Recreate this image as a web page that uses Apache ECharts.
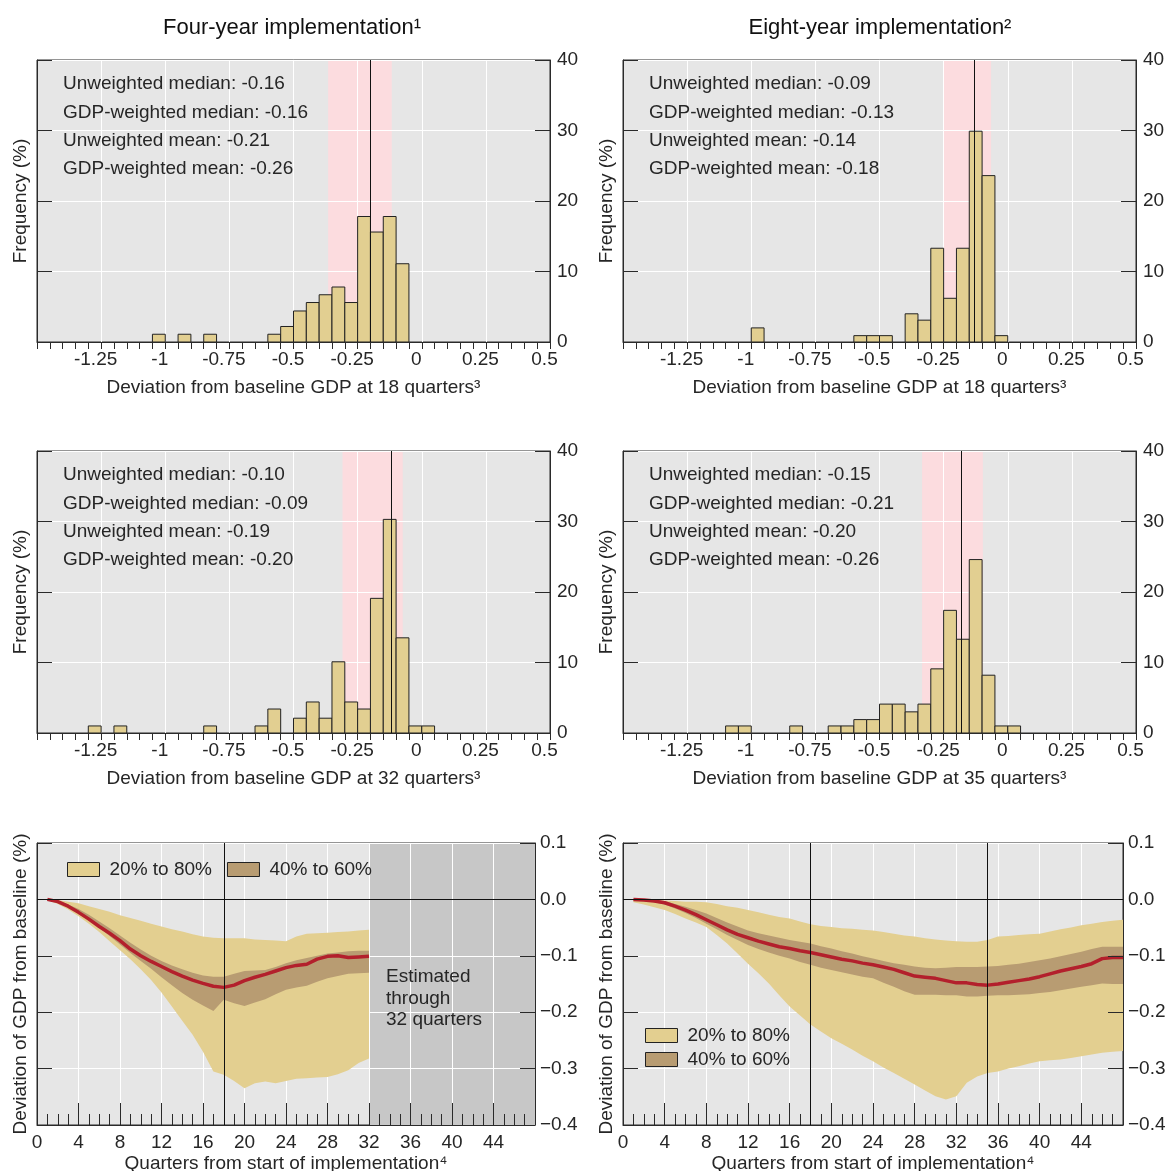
<!DOCTYPE html>
<html>
<head>
<meta charset="utf-8">
<script src="https://cdn.jsdelivr.net/npm/echarts@6/dist/echarts.min.js"></script>
<style>
  html, body { margin: 0; padding: 0; background: #fff; }
  #chart { width: 1168px; height: 1171px; }
</style>
</head>
<body>
<div id="chart"></div>
<script>
// ---- histogram data (bin start, frequency in %) ----
var binWidth = 0.05;

var h4y18Start = [-1.05, -0.95, -0.85, -0.6, -0.55, -0.5, -0.45, -0.4, -0.35, -0.3, -0.25, -0.2, -0.15, -0.1];
var h4y18Freq  = [1.1, 1.1, 1.1, 1.1, 2.2, 4.4, 5.6, 6.7, 7.8, 5.6, 17.8, 15.6, 17.8, 11.1];

var h8y18Start = [-1.0, -0.6, -0.55, -0.5, -0.4, -0.35, -0.3, -0.25, -0.2, -0.15, -0.1, -0.05];
var h8y18Freq  = [2.0, 0.9, 0.9, 0.9, 4.0, 3.1, 13.3, 6.2, 13.3, 29.9, 23.6, 0.9];

var h4y32Start = [-1.3, -1.2, -0.85, -0.65, -0.6, -0.5, -0.45, -0.4, -0.35, -0.3, -0.25, -0.2, -0.15, -0.1, -0.05, 0];
var h4y32Freq  = [1.0, 1.0, 1.0, 1.0, 3.4, 2.1, 4.4, 2.1, 10.1, 4.4, 3.4, 19.1, 30.3, 13.5, 1.0, 1.0];

var h8y35Start = [-1.1, -1.05, -0.85, -0.7, -0.65, -0.6, -0.55, -0.5, -0.45, -0.4, -0.35, -0.3, -0.25, -0.2, -0.15, -0.1, -0.05, 0];
var h8y35Freq  = [1.0, 1.0, 1.0, 1.0, 1.0, 1.9, 1.9, 4.1, 4.1, 3.0, 4.1, 9.1, 17.4, 13.3, 24.6, 8.2, 1.0, 1.0];

// order: 4y@18, 8y@18, 4y@32, 8y@35
var histRefLine  = [-0.2, -0.125, -0.117, -0.178];
var histBandLow  = [-0.365, -0.251, -0.309, -0.334];
var histBandHigh = [-0.117, -0.065, -0.074, -0.097];

var statLabels = ['Unweighted median', 'GDP-weighted median', 'Unweighted mean', 'GDP-weighted mean'];
var stats4y18 = ['-0.16', '-0.16', '-0.21', '-0.26'];
var stats8y18 = ['-0.09', '-0.13', '-0.14', '-0.18'];
var stats4y32 = ['-0.10', '-0.09', '-0.19', '-0.20'];
var stats8y35 = ['-0.15', '-0.21', '-0.20', '-0.26'];

// ---- GDP deviation paths ----
var quarters4y = [1, 2, 3, 4, 5, 6, 7, 8, 9, 10, 11, 12, 13, 14, 15, 16, 17, 18, 19, 20, 21, 22, 23, 24, 25, 26, 27, 28, 29, 30, 31, 32];
var med4y  = [0, -0.004, -0.012, -0.023, -0.035, -0.048, -0.06, -0.073, -0.088, -0.1, -0.11, -0.119, -0.128, -0.136, -0.143, -0.149, -0.154, -0.156, -0.152, -0.144, -0.138, -0.133, -0.127, -0.121, -0.117, -0.115, -0.106, -0.101, -0.1, -0.103, -0.102, -0.101];
var hi40_4y = [0, -0.003, -0.009, -0.017, -0.027, -0.039, -0.051, -0.064, -0.077, -0.089, -0.1, -0.109, -0.117, -0.124, -0.13, -0.135, -0.137, -0.137, -0.132, -0.127, -0.126, -0.125, -0.12, -0.113, -0.108, -0.104, -0.1, -0.096, -0.094, -0.092, -0.091, -0.091];
var lo40_4y = [0, -0.006, -0.014, -0.024, -0.036, -0.05, -0.065, -0.08, -0.095, -0.109, -0.123, -0.138, -0.152, -0.166, -0.178, -0.188, -0.198, -0.178, -0.184, -0.189, -0.183, -0.177, -0.168, -0.16, -0.156, -0.153, -0.146, -0.14, -0.136, -0.132, -0.131, -0.13];
var hi20_4y = [0, -0.001, -0.004, -0.007, -0.012, -0.017, -0.022, -0.028, -0.033, -0.038, -0.043, -0.048, -0.053, -0.057, -0.062, -0.066, -0.068, -0.069, -0.069, -0.069, -0.071, -0.072, -0.073, -0.074, -0.066, -0.061, -0.06, -0.059, -0.058, -0.057, -0.055, -0.054];
var lo20_4y = [-0.001, -0.008, -0.018, -0.03, -0.043, -0.058, -0.074, -0.09, -0.106, -0.124, -0.143, -0.165, -0.19, -0.215, -0.24, -0.27, -0.305, -0.311, -0.322, -0.335, -0.326, -0.323, -0.326, -0.322, -0.318, -0.317, -0.316, -0.315, -0.31, -0.303, -0.29, -0.282];

var quarters8y = [1, 2, 3, 4, 5, 6, 7, 8, 9, 10, 11, 12, 13, 14, 15, 16, 17, 18, 19, 20, 21, 22, 23, 24, 25, 26, 27, 28, 29, 30, 31, 32, 33, 34, 35, 36, 37, 38, 39, 40, 41, 42, 43, 44, 45, 46, 47, 48];
var med8y  = [0, -0.001, -0.003, -0.006, -0.012, -0.019, -0.027, -0.036, -0.045, -0.054, -0.062, -0.068, -0.074, -0.079, -0.084, -0.087, -0.091, -0.094, -0.098, -0.102, -0.106, -0.109, -0.113, -0.116, -0.12, -0.124, -0.13, -0.136, -0.138, -0.14, -0.144, -0.148, -0.148, -0.151, -0.152, -0.15, -0.147, -0.144, -0.141, -0.137, -0.132, -0.127, -0.123, -0.119, -0.114, -0.105, -0.103, -0.103];
var hi40_8y = [0, 0, -0.001, -0.003, -0.008, -0.013, -0.019, -0.025, -0.033, -0.041, -0.048, -0.055, -0.06, -0.064, -0.068, -0.072, -0.075, -0.078, -0.083, -0.087, -0.092, -0.096, -0.101, -0.105, -0.109, -0.113, -0.116, -0.119, -0.121, -0.122, -0.121, -0.12, -0.12, -0.12, -0.119, -0.118, -0.116, -0.114, -0.111, -0.108, -0.105, -0.101, -0.097, -0.093, -0.088, -0.084, -0.084, -0.084];
var lo40_8y = [0, -0.002, -0.005, -0.009, -0.016, -0.024, -0.033, -0.043, -0.053, -0.063, -0.072, -0.081, -0.088, -0.094, -0.1, -0.105, -0.111, -0.116, -0.121, -0.125, -0.129, -0.133, -0.137, -0.14, -0.148, -0.155, -0.163, -0.169, -0.169, -0.169, -0.17, -0.17, -0.172, -0.172, -0.171, -0.17, -0.17, -0.169, -0.168, -0.166, -0.164, -0.161, -0.158, -0.155, -0.152, -0.149, -0.15, -0.15];
var hi20_8y = [0, 0, -0.001, -0.002, -0.003, -0.004, -0.004, -0.005, -0.008, -0.012, -0.015, -0.019, -0.023, -0.027, -0.031, -0.034, -0.039, -0.044, -0.047, -0.049, -0.051, -0.052, -0.054, -0.055, -0.058, -0.061, -0.064, -0.066, -0.069, -0.071, -0.073, -0.074, -0.075, -0.075, -0.072, -0.066, -0.065, -0.063, -0.062, -0.061, -0.057, -0.053, -0.05, -0.046, -0.043, -0.04, -0.038, -0.036];
var lo20_8y = [-0.005, -0.009, -0.014, -0.019, -0.026, -0.034, -0.041, -0.049, -0.063, -0.078, -0.096, -0.114, -0.131, -0.149, -0.17, -0.19, -0.206, -0.222, -0.234, -0.246, -0.256, -0.266, -0.277, -0.287, -0.298, -0.308, -0.318, -0.328, -0.339, -0.349, -0.355, -0.349, -0.325, -0.314, -0.308, -0.305, -0.3, -0.296, -0.291, -0.287, -0.285, -0.284, -0.281, -0.278, -0.275, -0.272, -0.27, -0.269];

var refQuarters4y = [18];
var refQuarters8y = [18, 35];
var estimatedFrom = 32;   // 4y path only estimated through 32 quarters
var quarterMax = 48;

// ---- styling ----
var FONT = '"Liberation Sans", Arial, Helvetica, sans-serif';
var TXT = '#262626';
var LINE = '#2a2a2a';
var BG = '#e6e6e6';
var BAR = '#e2cf91';
var PINK = '#fcdcdf';
var C20 = '#e3cf90';
var C40 = '#b89c72';
var RED = '#b3202c';
var GREY = '#c7c7c7';

var histPanels = [
  { start: h4y18Start, freq: h4y18Freq, stats: stats4y18, xname: 'Deviation from baseline GDP at 18 quarters\u00b3', left: 37, top: 60 },
  { start: h8y18Start, freq: h8y18Freq, stats: stats8y18, xname: 'Deviation from baseline GDP at 18 quarters\u00b3', left: 623, top: 60 },
  { start: h4y32Start, freq: h4y32Freq, stats: stats4y32, xname: 'Deviation from baseline GDP at 32 quarters\u00b3', left: 37, top: 451 },
  { start: h8y35Start, freq: h8y35Freq, stats: stats8y35, xname: 'Deviation from baseline GDP at 35 quarters\u00b3', left: 623, top: 451 }
];

var pathPanels = [
  { q: quarters4y, med: med4y, hi40: hi40_4y, lo40: lo40_4y, hi20: hi20_4y, lo20: lo20_4y, refs: refQuarters4y, shade: true, left: 37, top: 843, width: 498 },
  { q: quarters8y, med: med8y, hi40: hi40_8y, lo40: lo40_8y, hi20: hi20_8y, lo20: lo20_8y, refs: refQuarters8y, shade: false, left: 623, top: 843, width: 500 }
];

var grids = [], xAxes = [], yAxes = [], series = [], graphics = [];

function frameGrid(left, top, width) {
  return { left: left, top: top, width: width, height: 282, show: true, backgroundColor: BG,
           borderColor: LINE, borderWidth: 1, containLabel: false, outerBoundsMode: 'none' };
}

function renderBin(params, api) {
  var x0 = api.value(0), h = api.value(1);
  var p0 = api.coord([x0, 0]);
  var p1 = api.coord([x0 + binWidth, h]);
  return {
    type: 'rect',
    shape: { x: p0[0], y: p1[1], width: p1[0] - p0[0], height: p0[1] - p1[1] },
    style: { fill: BAR, stroke: '#222', lineWidth: 1 }
  };
}

// whole band drawn once as one polygon: upper edge forward, lower edge back
function bandRenderer(xs, lo, hi, color) {
  return function (params, api) {
    if (params.dataIndex !== 0) return null;
    var pts = [], k;
    for (k = 0; k < xs.length; k++) pts.push(api.coord([xs[k], hi[k]]));
    for (k = xs.length - 1; k >= 0; k--) pts.push(api.coord([xs[k], lo[k]]));
    return { type: 'polygon', shape: { points: pts }, style: { fill: color } };
  };
}

function signedOne(v) {
  var r = Math.round(v * 10) / 10;
  if (r === 0) return '0.0';
  return r < 0 ? '\u2212' + (-r).toFixed(1) : r.toFixed(1);
}

function pairs(xs, ys) {
  return xs.map(function (x, k) { return [x, ys[k]]; });
}
function triples(xs, lo, hi) {
  return xs.map(function (x, k) { return [x, lo[k], hi[k]]; });
}

/* histograms */
histPanels.forEach(function (p, i) {
  grids.push(frameGrid(p.left, p.top, 513));
  xAxes.push({
    gridIndex: i, type: 'value', min: -1.5, max: 0.5, interval: 0.25, z: 1.5,
    axisLine: { show: true, onZero: false, lineStyle: { color: LINE } },
    axisTick: { show: true, inside: false, length: 7, lineStyle: { color: LINE } },
    minorTick: { show: true, splitNumber: 5, length: 7, lineStyle: { color: LINE } },
    splitLine: { show: true, lineStyle: { color: '#fff', width: 1 } },
    axisLabel: {
      margin: 8, fontSize: 19, fontFamily: FONT, color: TXT, padding: [0, 11, 0, 0],
      formatter: function (v) { return Math.abs(v + 1.5) < 1e-9 ? '' : String(+v.toFixed(2)); }
    },
    name: p.xname, nameLocation: 'middle', nameGap: 36,
    nameTextStyle: { fontSize: 19, fontFamily: FONT, color: TXT }
  });
  yAxes.push({
    gridIndex: i, type: 'value', position: 'left', min: 0, max: 40, interval: 10, z: 1.5,
    axisLine: { show: true, onZero: false, lineStyle: { color: LINE } },
    axisTick: { show: true, inside: true, length: 15, lineStyle: { color: LINE } },
    axisLabel: { show: false },
    splitLine: { show: true, lineStyle: { color: '#fff', width: 1 } },
    name: 'Frequency (%)', nameLocation: 'middle', nameGap: 7, nameRotate: 90,
    nameTextStyle: { fontSize: 19, fontFamily: FONT, color: TXT }
  });
  yAxes.push({
    gridIndex: i, type: 'value', position: 'right', min: 0, max: 40, interval: 10, z: 1.5,
    axisLine: { show: true, onZero: false, lineStyle: { color: LINE } },
    axisTick: { show: true, inside: true, length: 15, lineStyle: { color: LINE } },
    axisLabel: { margin: 7, fontSize: 19, fontFamily: FONT, color: TXT },
    splitLine: { show: false }
  });
  series.push({
    type: 'custom', name: 'hist' + i, xAxisIndex: i, yAxisIndex: 2 * i,
    data: pairs(p.start, p.freq), encode: { x: 0, y: 1 },
    renderItem: renderBin, clip: true, silent: true,
    markArea: {
      silent: true, z: 1, itemStyle: { color: PINK },
      data: [[{ xAxis: histBandLow[i] }, { xAxis: histBandHigh[i] }]]
    },
    markLine: {
      silent: true, symbol: ['none', 'none'], label: { show: false },
      lineStyle: { color: '#111', width: 1, type: 'solid' },
      data: [{ xAxis: histRefLine[i] }]
    }
  });
  graphics.push({
    type: 'text', x: p.left + 26, y: p.top + 10, z: 10, silent: true,
    style: {
      text: statLabels.map(function (s, k) { return s + ': ' + p.stats[k]; }).join('\n'),
      fontSize: 19, fontFamily: FONT, fill: TXT, lineHeight: 28.3
    }
  });
});

/* paths with percentile bands */
pathPanels.forEach(function (p, j) {
  var g = 4 + j;
  grids.push(frameGrid(p.left, p.top, p.width));
  xAxes.push({
    gridIndex: g, type: 'value', min: 0, max: quarterMax, interval: 4, z: 1.5,
    axisLine: { show: true, onZero: false, lineStyle: { color: LINE } },
    axisTick: { show: true, inside: true, length: 22, lineStyle: { color: LINE } },
    minorTick: { show: true, splitNumber: 4, length: 11, lineStyle: { color: LINE } },
    splitLine: { show: true, lineStyle: { color: '#fff', width: 1 } },
    axisLabel: {
      margin: 8, fontSize: 19, fontFamily: FONT, color: TXT,
      formatter: function (v) { return v === quarterMax ? '' : String(v); }
    },
    name: 'Quarters from start of implementation\u2074', nameLocation: 'middle', nameGap: 29,
    nameTextStyle: { fontSize: 19, fontFamily: FONT, color: TXT }
  });
  yAxes.push({
    gridIndex: g, type: 'value', position: 'left', min: -0.4, max: 0.1, interval: 0.1, z: 1.5,
    axisLine: { show: true, onZero: false, lineStyle: { color: LINE } },
    axisTick: { show: true, inside: true, length: 15, lineStyle: { color: LINE } },
    axisLabel: { show: false },
    splitLine: { show: true, lineStyle: { color: '#fff', width: 1 } },
    name: 'Deviation of GDP from baseline (%)', nameLocation: 'middle', nameGap: 7, nameRotate: 90,
    nameTextStyle: { fontSize: 19, fontFamily: FONT, color: TXT }
  });
  yAxes.push({
    gridIndex: g, type: 'value', position: 'right', min: -0.4, max: 0.1, interval: 0.1, z: 3,
    axisLine: { show: true, onZero: false, lineStyle: { color: LINE } },
    axisTick: { show: true, inside: true, length: 15, lineStyle: { color: LINE } },
    axisLabel: { margin: 5, fontSize: 19, fontFamily: FONT, color: TXT, formatter: signedOne },
    splitLine: { show: false }
  });
  var yi = 2 * g;
  var band20 = {
    type: 'custom', name: '20% to 80%', xAxisIndex: g, yAxisIndex: yi,
    data: triples(p.q, p.lo20, p.hi20), encode: { x: 0, y: [1, 2] },
    renderItem: bandRenderer(p.q, p.lo20, p.hi20, C20), clip: true, silent: true, z: 2,
    itemStyle: { color: C20 }
  };
  if (p.shade) {
    band20.markArea = {
      silent: true, z: 1, itemStyle: { color: GREY },
      data: [[{ xAxis: estimatedFrom }, { xAxis: quarterMax }]]
    };
  }
  series.push(band20);
  series.push({
    type: 'custom', name: '40% to 60%', xAxisIndex: g, yAxisIndex: yi,
    data: triples(p.q, p.lo40, p.hi40), encode: { x: 0, y: [1, 2] },
    renderItem: bandRenderer(p.q, p.lo40, p.hi40, C40), clip: true, silent: true, z: 2,
    itemStyle: { color: C40 }
  });
  series.push({
    type: 'line', name: 'median_' + j, xAxisIndex: g, yAxisIndex: yi,
    data: pairs(p.q, p.med), symbol: 'none', silent: true, z: 2,
    lineStyle: { color: RED, width: 3.5 },
    markLine: {
      silent: true, symbol: ['none', 'none'], label: { show: false },
      lineStyle: { color: '#111', width: 1, type: 'solid' },
      data: p.refs.map(function (q) { return { xAxis: q }; }).concat([{ yAxis: 0 }])
    }
  });
});

function legendItem(name, color) {
  return { name: name, icon: 'rect', itemStyle: { color: color, borderColor: '#222', borderWidth: 1 } };
}
var legendData = [legendItem('20% to 80%', C20), legendItem('40% to 60%', C40)];

graphics.push(
  { type: 'text', x: 292, y: 28, z: 10, silent: true,
    style: { text: 'Four-year implementation\u00b9', fontSize: 22, fontFamily: FONT, fill: '#111', align: 'center', verticalAlign: 'middle' } },
  { type: 'text', x: 880, y: 28, z: 10, silent: true,
    style: { text: 'Eight-year implementation\u00b2', fontSize: 22, fontFamily: FONT, fill: '#111', align: 'center', verticalAlign: 'middle' } },
  { type: 'text', x: 386, y: 966, z: 10, silent: true,
    style: { text: 'Estimated\nthrough\n32 quarters', fontSize: 19, fontFamily: FONT, fill: TXT, lineHeight: 21.7 } }
);

var option = {
  animation: false,
  backgroundColor: '#fff',
  textStyle: { fontFamily: FONT },
  grid: grids,
  xAxis: xAxes,
  yAxis: yAxes,
  legend: [
    { left: 67, top: 860, padding: 0, orient: 'horizontal', itemWidth: 32, itemHeight: 14, itemGap: 15,
      selectedMode: false, data: legendData, textStyle: { fontSize: 19, fontFamily: FONT, color: TXT, padding: [0, 0, 0, 5] } },
    { left: 645, top: 1026, padding: 0, orient: 'vertical', itemWidth: 32, itemHeight: 14, itemGap: 5,
      selectedMode: false, data: legendData, textStyle: { fontSize: 19, fontFamily: FONT, color: TXT, padding: [0, 0, 0, 5] } }
  ],
  series: series,
  graphic: graphics
};

var chart = echarts.init(document.getElementById('chart'));
chart.setOption(option);
window.addEventListener('resize', function () { chart.resize(); });
</script>
</body>
</html>
